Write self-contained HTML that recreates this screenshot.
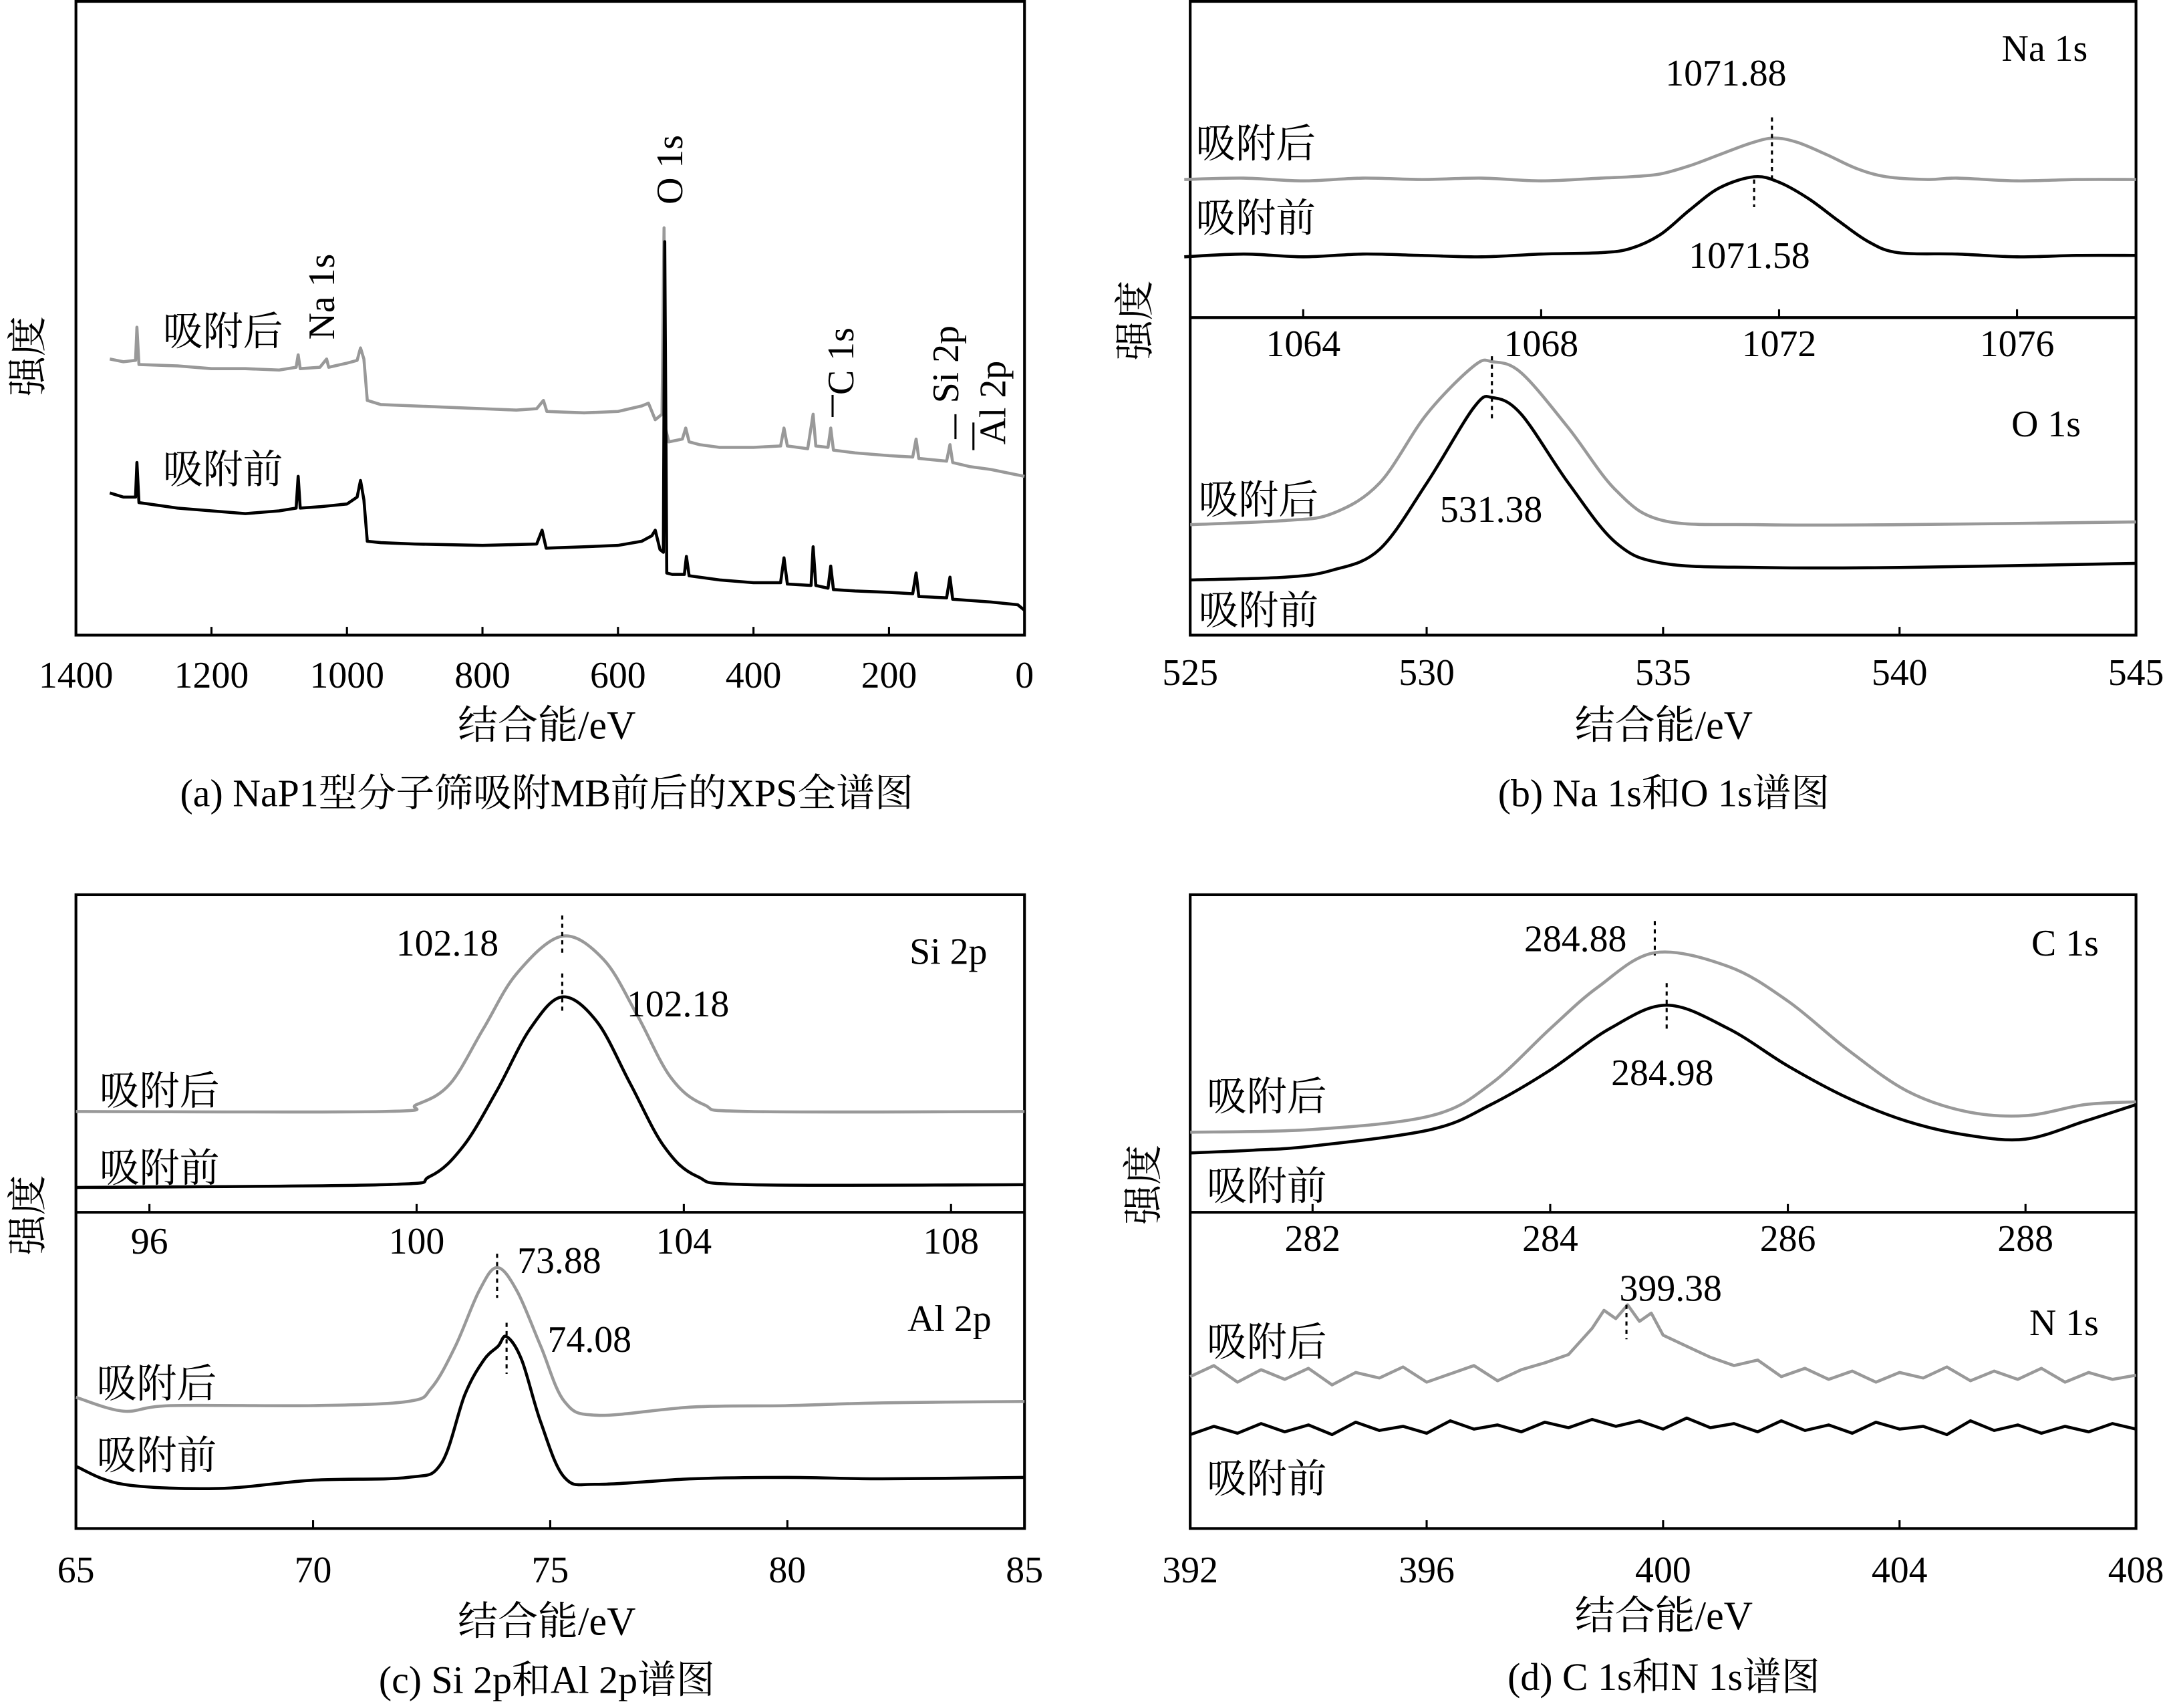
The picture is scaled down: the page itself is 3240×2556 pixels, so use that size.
<!DOCTYPE html>
<html><head><meta charset="utf-8"><style>
html,body{margin:0;padding:0;background:#fff}
svg{display:block}
text{font-family:"Liberation Serif","Noto Serif CJK SC",serif;fill:#000}
</style></head><body>
<svg id="chart" xmlns="http://www.w3.org/2000/svg" width="3240" height="2556" viewBox="0 0 1568 1237" preserveAspectRatio="none"></svg>
<script>
// ---------- Data ----------
const aEv = [1350,1330,1312,1310,1307,1250,1200,1150,1100,1075,1072,1069,1040,1030,1027,1000,985,980,975,970,950,900,850,800,750,720,710,705,650,600,565,555,545,535,532,530,525,505,500,495,480,450,400,360,355,350,320,312,308,290,286,282,250,200,165,160,156,115,110,106,80,50,20,0];
const aAfter = [200,198,199,223,196,195,193,193,192,194,203,193,194,200,194,197,199,208,200,170,167,166,165,164,163,164,170,162,161,162,166,168,156,160,295,150,140,142,150,140,138,136,136,137,150,137,135,160,137,136,150,134,132,130,129,142,128,126,138,125,122,120,117,115];
const aEvB = [1350,1330,1312,1310,1307,1250,1200,1150,1100,1075,1072,1069,1040,1000,985,980,975,970,950,900,800,720,712,706,650,600,565,550,545,538,533,531,528,520,502,499,495,450,400,360,355,350,315,312,308,290,286,282,250,200,165,160,156,115,110,106,50,10,0];
const aBefore = [103,100,100,125,96,92,90,88,90,92,115,92,93,95,100,112,98,68,67,66,65,66,76,63,64,65,68,72,76,62,60,285,45,44,44,57,43,40,38,38,56,37,36,64,36,34,50,33,32,31,30,45,28,27,42,26,24,22,18];

const naEv = [1062,1063,1064,1065,1066,1067,1068,1069,1069.5,1070,1070.5,1071,1071.5,1071.9,1072.3,1072.8,1073.3,1073.8,1074.5,1075,1076,1077,1078];
const naAfter = [100,101,99,101,100,101,99,101,102,104,110,118,126,130,127,118,108,102,100,101,99,100,100];
const naEvB = [1062,1063,1064,1065,1066,1067,1068,1069,1069.5,1070,1070.5,1071,1071.58,1072,1072.5,1073,1073.5,1074,1075,1076,1077,1078];
const naBefore = [44,46,44,46,45,44,46,47,50,60,78,94,102,98,86,70,55,47,46,44,45,45];

const oEv = [525,527,528,529,530,531,531.4,532,533,534,535,537,540,545];
const oAfter = [80,83,88,110,160,195,198,190,150,105,83,80,80,82];
const oBefore = [40,42,47,62,110,165,172,160,110,67,52,49,49,52];

const siEv = [94.9,99.5,100,100.5,101,101.5,102.18,102.8,103.3,103.8,104.3,105,109.1];
const siAfter = [73,73,78,93,133,173,200,183,143,98,78,73,73];
const siEvB = [94.9,99.5,100.2,100.7,101.2,101.7,102.18,102.7,103.2,103.7,104.2,105,109.1];
const siBefore = [18,20,26,48,88,133,156,138,93,48,26,20,20];

const alEv = [65,66,67,70,72,72.5,73,73.5,73.88,74.3,74.8,75.3,76,78,80,82,85];
const alAfter = [95,85,89,89,92,102,132,172,189,172,132,92,82,88,89,91,92];
const alEvB = [65,66,68,70,72,72.7,73.2,73.6,73.9,74.08,74.4,74.8,75.3,76,78,80,82,85];
const alBefore = [45,32,29,35,37,47,97,122,132,139,122,77,37,32,36,37,36,37];

const cEv = [280.97,282,283,283.5,284,284.4,284.88,285.5,286,286.5,287,287.5,288,288.5,288.93];
const cAfter = [58,60,70,93,133,163,188,178,153,118,88,73,70,78,80];
const cEvB = [280.97,281.5,282,283,283.5,284,284.5,284.98,285.5,286,286.5,287,287.5,288,288.5,288.93];
const cBefore = [43,45,48,60,78,103,133,150,133,106,83,66,56,53,66,78];

const nEv = [392,392.4,392.8,393.2,393.6,394,394.4,394.8,395.2,395.6,396,396.4,396.8,397.2,397.6,398,398.4,398.8,399,399.2,399.4,399.6,399.8,400,400.4,400.8,401.2,401.6,402,402.4,402.8,403.2,403.6,404,404.4,404.8,405.2,405.6,406,406.4,406.8,407.2,407.6,408];
const nAfter = [110,118,106,115,108,116,104,113,109,117,106,112,118,107,115,120,126,145,158,152,162,150,156,140,132,124,118,122,110,116,108,114,106,113,109,117,107,114,108,116,106,113,108,111];
const nEvB = [392,392.4,392.8,393.2,393.6,394,394.4,394.8,395.2,395.6,396,396.4,396.8,397.2,397.6,398,398.4,398.8,399.2,399.6,400,400.4,400.8,401.2,401.6,402,402.4,402.8,403.2,403.6,404,404.4,404.8,405.2,405.6,406,406.4,406.8,407.2,407.6,408];
const nBefore = [68,74,69,76,70,75,68,77,71,74,69,78,72,75,70,77,73,79,74,78,72,80,73,76,70,78,71,75,69,77,72,74,68,78,71,75,69,74,70,76,72];

const aTicks = [1400,1200,1000,800,600,400,200,0];
const naTicks = [1064,1068,1072,1076];
const oTicks = [525,530,535,540,545];
const siTicks = [96,100,104,108];
const alTicks = [65,70,75,80,85];
const cTicks = [282,284,286,288];
const nTicks = [392,396,400,404,408];

// ---------- Helpers ----------
const svg = document.getElementById('chart');
const NS = 'http://www.w3.org/2000/svg';
function mk(tag, attrs, name){
  const el = document.createElementNS(NS, tag);
  for (const k in attrs) el.setAttribute(k, attrs[k]);
  
  
  svg.appendChild(el);
  return el;
}
function txt(x,y,s,name,opt){
  opt = opt||{};
  const el = mk('text',{x:x,y:y,'font-size':opt.fs||27,'text-anchor':opt.anchor||'start'},name);
  if (opt.rot) el.setAttribute('transform','rotate('+opt.rot+' '+x+' '+y+')');
  el.textContent = s;
  return el;
}
function panel(x0,x1,yTop,yBot,d0,d1){
  return {x:v=>x0+(v-d0)/(d1-d0)*(x1-x0), y:v=>yBot-v, x0:x0,x1:x1,yTop:yTop,yBot:yBot};
}
function line(p,xs,ys,color,name,smooth){
  const P = xs.map((v,i)=>[p.x(v),p.y(ys[i])]);
  let d='M'+P[0][0].toFixed(2)+' '+P[0][1].toFixed(2);
  for(let i=1;i<P.length;i++){
    if(smooth){
      const p0=P[Math.max(0,i-2)], p1=P[i-1], p2=P[i], p3=P[Math.min(P.length-1,i+1)];
      const c1=[p1[0]+(p2[0]-p0[0])/6, p1[1]+(p2[1]-p0[1])/6];
      const c2=[p2[0]-(p3[0]-p1[0])/6, p2[1]-(p3[1]-p1[1])/6];
      d+='C'+c1[0].toFixed(2)+' '+c1[1].toFixed(2)+' '+c2[0].toFixed(2)+' '+c2[1].toFixed(2)+' '+p2[0].toFixed(2)+' '+p2[1].toFixed(2);
    } else {
      d+='L'+P[i][0].toFixed(2)+' '+P[i][1].toFixed(2);
    }
  }
  mk('path',{d:d,fill:'none',stroke:color,'stroke-width':2.2,'stroke-linejoin':'round'},name);
}
function ticks(p,vals,yAxis,labelY,name){
  vals.forEach(v=>{
    mk('line',{x1:p.x(v),x2:p.x(v),y1:yAxis,y2:yAxis-6,stroke:'#000','stroke-width':1.5},name+'-tick');
    txt(p.x(v),labelY,String(v),name+'-tick-label',{anchor:'middle'});
  });
}
function dash(x,y1,y2,name){
  mk('line',{x1:x,x2:x,y1:y1,y2:y2,stroke:'#000','stroke-width':1.5,'stroke-dasharray':'3 3'},name);
}
function box(x0,y0,x1,y1,name){
  mk('rect',{x:x0,y:y0,width:x1-x0,height:y1-y0,fill:'none',stroke:'#000','stroke-width':2},name);
}
const G='#999', K='#000';

// ---------- Panel (a) ----------
box(55,1,742,460,'panel-a-frame');
const pa = panel(55,742,0,460,1400,0);
line(pa,aEv,aAfter,G,'survey-after-line',false);
line(pa,aEvB,aBefore,K,'survey-before-line',false);
ticks(pa,aTicks,460,498,'panel-a-x');
txt(118,250,'吸附后','survey-after-label',{fs:29});
txt(118,350,'吸附前','survey-before-label',{fs:29});
txt(242,246,'Na 1s','na1s-peak-label',{rot:-90});
txt(494,148,'O 1s','o1s-peak-label',{rot:-90});
txt(618,286,'C 1s','c1s-peak-label',{rot:-90});
mk('line',{x1:603,x2:603,y1:286,y2:302,stroke:'#000','stroke-width':1.5},'c1s-marker');
txt(694,292,'Si 2p','si2p-peak-label',{rot:-90});
mk('line',{x1:692,x2:692,y1:300,y2:318,stroke:'#000','stroke-width':1.5},'si2p-marker');
txt(728,322,'Al 2p','al2p-peak-label',{rot:-90});
mk('line',{x1:705,x2:705,y1:306,y2:326,stroke:'#000','stroke-width':1.5},'al2p-marker');
txt(30,258,'强度','panel-a-y-title',{rot:-90,fs:29,anchor:'middle'});
txt(396,535,'结合能/eV','panel-a-x-title',{fs:29,anchor:'middle'});
txt(396,584,'(a) NaP1型分子筛吸附MB前后的XPS全谱图','panel-a-caption',{fs:28,anchor:'middle'});

// ---------- Panel (b) ----------
box(862,1,1547,460,'panel-b-frame');
mk('line',{x1:862,x2:1547,y1:230,y2:230,stroke:'#000','stroke-width':2},'panel-b-divider');
const pna = panel(862,1547,0,230,1062.1,1078);
line(pna,naEv,naAfter,G,'na1s-after-line',true);
line(pna,naEvB,naBefore,K,'na1s-before-line',true);
ticks(pna,naTicks,230,258,'na1s-x');
dash(pna.x(1071.88),85,130,'na1s-after-peak-marker');
dash(pna.x(1071.58),130,150,'na1s-before-peak-marker');
txt(1512,44,'Na 1s','na1s-title',{anchor:'end'});
txt(1250,62,'1071.88','na1s-after-value',{anchor:'middle'});
txt(1267,194,'1071.58','na1s-before-value',{anchor:'middle'});
txt(866,114,'吸附后','na1s-after-label',{fs:29});
txt(866,168,'吸附前','na1s-before-label',{fs:29});
const po = panel(862,1547,230,460,525,545);
line(po,oEv,oAfter,G,'o1s-after-line',true);
line(po,oEv,oBefore,K,'o1s-before-line',true);
ticks(po,oTicks,460,496,'o1s-x');
dash(po.x(531.38),258,305,'o1s-peak-marker');
txt(1507,316,'O 1s','o1s-title',{anchor:'end'});
txt(1080,378,'531.38','o1s-value',{anchor:'middle'});
txt(868,372,'吸附后','o1s-after-label',{fs:29});
txt(868,452,'吸附前','o1s-before-label',{fs:29});
txt(832,232,'强度','panel-b-y-title',{rot:-90,fs:29,anchor:'middle'});
txt(1205,535,'结合能/eV','panel-b-x-title',{fs:29,anchor:'middle'});
txt(1205,584,'(b) Na 1s和O 1s谱图','panel-b-caption',{fs:28,anchor:'middle'});

// ---------- Panel (c) ----------
box(55,648,742,1107,'panel-c-frame');
mk('line',{x1:55,x2:742,y1:878,y2:878,stroke:'#000','stroke-width':2},'panel-c-divider');
const psi = panel(55,742,648,878,94.9,109.1);
line(psi,siEv,siAfter,G,'si2p-after-line',true);
line(psi,siEvB,siBefore,K,'si2p-before-line',true);
ticks(psi,siTicks,878,908,'si2p-x');
dash(psi.x(102.18),663,690,'si2p-after-peak-marker');
dash(psi.x(102.18),705,732,'si2p-before-peak-marker');
txt(715,698,'Si 2p','si2p-title',{anchor:'end'});
txt(324,692,'102.18','si2p-after-value',{anchor:'middle'});
txt(491,736,'102.18','si2p-before-value',{anchor:'middle'});
txt(72,800,'吸附后','si2p-after-label',{fs:29});
txt(72,856,'吸附前','si2p-before-label',{fs:29});
const pal = panel(55,742,878,1107,65,85);
line(pal,alEv,alAfter,G,'al2p-after-line',true);
line(pal,alEvB,alBefore,K,'al2p-before-line',true);
ticks(pal,alTicks,1107,1146,'al2p-x');
dash(pal.x(73.88),908,940,'al2p-after-peak-marker');
dash(pal.x(74.08),958,995,'al2p-before-peak-marker');
txt(718,964,'Al 2p','al2p-title',{anchor:'end'});
txt(405,922,'73.88','al2p-after-value',{anchor:'middle'});
txt(427,979,'74.08','al2p-before-value',{anchor:'middle'});
txt(70,1012,'吸附后','al2p-after-label',{fs:29});
txt(70,1064,'吸附前','al2p-before-label',{fs:29});
txt(30,880,'强度','panel-c-y-title',{rot:-90,fs:29,anchor:'middle'});
txt(396,1184,'结合能/eV','panel-c-x-title',{fs:29,anchor:'middle'});
txt(396,1226,'(c) Si 2p和Al 2p谱图','panel-c-caption',{fs:28,anchor:'middle'});

// ---------- Panel (d) ----------
box(862,648,1547,1107,'panel-d-frame');
mk('line',{x1:862,x2:1547,y1:878,y2:878,stroke:'#000','stroke-width':2},'panel-d-divider');
const pc = panel(862,1547,648,878,280.97,288.93);
line(pc,cEv,cAfter,G,'c1s-after-line',true);
line(pc,cEvB,cBefore,K,'c1s-before-line',true);
ticks(pc,cTicks,878,906,'c1s-x');
dash(pc.x(284.88),667,692,'c1s-after-peak-marker');
dash(pc.x(284.98),712,745,'c1s-before-peak-marker');
txt(1520,692,'C 1s','c1s-title',{anchor:'end'});
txt(1141,689,'284.88','c1s-after-value',{anchor:'middle'});
txt(1204,786,'284.98','c1s-before-value',{anchor:'middle'});
txt(874,804,'吸附后','c1s-after-label',{fs:29});
txt(874,869,'吸附前','c1s-before-label',{fs:29});
const pn = panel(862,1547,878,1107,392,408);
line(pn,nEv,nAfter,G,'n1s-after-line',false);
line(pn,nEvB,nBefore,K,'n1s-before-line',false);
ticks(pn,nTicks,1107,1146,'n1s-x');
dash(pn.x(399.38),945,970,'n1s-peak-marker');
txt(1520,967,'N 1s','n1s-title',{anchor:'end'});
txt(1210,942,'399.38','n1s-value',{anchor:'middle'});
txt(874,982,'吸附后','n1s-after-label',{fs:29});
txt(874,1081,'吸附前','n1s-before-label',{fs:29});
txt(838,858,'强度','panel-d-y-title',{rot:-90,fs:29,anchor:'middle'});
txt(1205,1180,'结合能/eV','panel-d-x-title',{fs:29,anchor:'middle'});
txt(1205,1224,'(d) C 1s和N 1s谱图','panel-d-caption',{fs:28,anchor:'middle'});
</script>
</body></html>
